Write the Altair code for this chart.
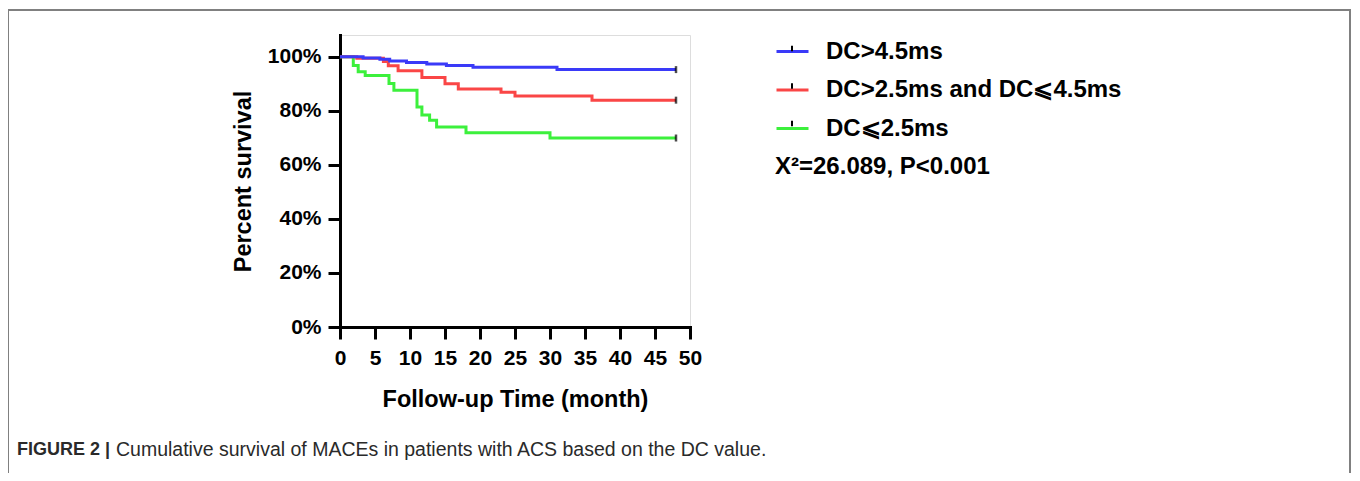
import altair as alt
import pandas as pd

# ---- data ----
series_names = ["DC>4.5ms", "DC>2.5ms and DC⩽4.5ms", "DC⩽2.5ms"]
series_colors = ["#3A3AF8", "#FA4646", "#3CF03C"]

blue_t = [0, 3.3, 5.7, 7.1, 9.5, 12.4, 15.2, 19.0, 31.0, 48]
blue_s = [100, 99.5, 99.0, 98.4, 97.8, 97.3, 96.7, 96.1, 95.2, 95.2]

red_t = [0, 2.4, 6.2, 6.9, 8.3, 11.7, 15.0, 16.9, 23.0, 25.0, 36.0, 48]
red_s = [100, 99.4, 98.2, 96.6, 94.8, 92.3, 90.0, 88.0, 86.8, 85.4, 83.9, 83.9]

green_t = [0, 1.9, 2.6, 3.6, 7.0, 7.7, 11.0, 11.7, 12.8, 13.8, 18.0, 30.0, 48]
green_s = [100, 96.7, 94.4, 93.0, 90.1, 87.6, 81.4, 78.4, 76.5, 74.0, 71.8, 69.9, 69.9]

x_ticks = [0, 5, 10, 15, 20, 25, 30, 35, 40, 45, 50]
y_ticks = [0, 20, 40, 60, 80, 100]

stat_text = "X²=26.089, P<0.001"
caption_bold = "FIGURE 2 |"
caption_rest = "Cumulative survival of MACEs in patients with ACS based on the DC value."

# ---- tables ----
rows = []
for name, ts, ss in zip(series_names, [blue_t, red_t, green_t], [blue_s, red_s, green_s]):
    for t, s in zip(ts, ss):
        rows.append({"group": name, "t": t, "s": s})
df = pd.DataFrame(rows)
ends = pd.DataFrame({"group": series_names,
                     "t": [blue_t[-1], red_t[-1], green_t[-1]],
                     "s": [blue_s[-1], red_s[-1], green_s[-1]]})
# separate keys for the censor-glyph legend so it is not merged with the colour legend
tick_keys = [n + "\u200b" for n in series_names]

FONT = "Liberation Sans"
LEG_X, LEG_Y, LEG_ROWPAD = 435, -1, 8.5

x_enc = alt.X("t:Q", scale=alt.Scale(domain=[0, 50], nice=False, zero=False),
              axis=alt.Axis(values=x_ticks, title="Follow-up Time (month)", grid=False,
                            domainColor="black", domainWidth=3, tickColor="black", tickWidth=3,
                            tickSize=12, labelFont=FONT, labelFontSize=21, labelFontWeight="bold",
                            labelColor="black", labelPadding=8, labelOverlap=False,
                            titleFont=FONT, titleFontSize=23.5,
                            titleFontWeight="bold", titleColor="black", titlePadding=19,
                            labelFlush=False, domainCap="square"))
y_enc = alt.Y("s:Q", scale=alt.Scale(domain=[0, 108], nice=False, zero=True),
              axis=alt.Axis(values=y_ticks, title="Percent survival", grid=False,
                            labelExpr="datum.value + '%'", labelOverlap=False,
                            domainColor="black", domainWidth=3, tickColor="black", tickWidth=3,
                            tickSize=12, labelFont=FONT, labelFontSize=21, labelFontWeight="bold",
                            labelColor="black", labelPadding=7, titleFont=FONT, titleFontSize=23.5,
                            titleFontWeight="bold", titleColor="black", titlePadding=12,
                            labelFlush=False, domainCap="square"))

color_enc = alt.Color("group:N",
                      scale=alt.Scale(domain=series_names, range=series_colors),
                      sort=series_names,
                      legend=alt.Legend(title=None, orient="none", legendX=LEG_X, legendY=LEG_Y,
                                        symbolType="stroke", symbolSize=1024, symbolStrokeWidth=3,
                                        labelFont=FONT, labelFontSize=24, labelFontWeight="bold",
                                        labelColor="black", labelLimit=600, labelOffset=16,
                                        rowPadding=LEG_ROWPAD, padding=0))

# draw green first, then red, then blue on top
line_layers = [
    alt.Chart(df[df.group == name]).mark_line(interpolate="step-after", strokeWidth=3).encode(
        x=x_enc, y=y_enc, color=color_enc, order=alt.Order("t:Q"))
    for name in reversed(series_names)
]

censor = alt.Chart(ends).mark_tick(orient="vertical", size=7, thickness=2.5, color="black").encode(
    x=x_enc, y=y_enc)

# black censor-tick glyphs drawn over the legend lines (legend only, no plotted rows)
tick_path = "M0,-0.33V0.02"
legend_ticks = alt.Chart(ends).transform_filter("datum.t < 0").transform_calculate(
    grp="datum.group + '\u200b'"
).mark_point(filled=False, color="black", strokeWidth=2, opacity=1).encode(
    x=x_enc, y=y_enc,
    shape=alt.Shape("grp:N", scale=alt.Scale(domain=tick_keys, range=[tick_path] * 3),
                    sort=tick_keys,
                    legend=alt.Legend(title=None, orient="none", legendX=LEG_X, legendY=LEG_Y,
                                      symbolSize=1024, symbolStrokeWidth=2,
                                      symbolStrokeColor="black", symbolOpacity=1,
                                      labelFont=FONT, labelFontSize=24, labelFontWeight="bold",
                                      labelColor="transparent", labelLimit=600, labelOffset=16,
                                      rowPadding=LEG_ROWPAD, padding=0)))

stat = alt.Chart(pd.DataFrame({"txt": [stat_text]})).mark_text(
    align="left", baseline="middle", font=FONT, fontSize=24, fontWeight="bold", color="black"
).encode(text="txt:N", x=alt.value(435), y=alt.value(132))

cap1 = alt.Chart(pd.DataFrame({"txt": [caption_bold]})).mark_text(
    align="left", baseline="middle", font=FONT, fontSize=18, fontWeight="bold", color="#2a2a2a"
).encode(text="txt:N", x=alt.value(-323), y=alt.value(415))

cap2 = alt.Chart(pd.DataFrame({"txt": [caption_rest]})).mark_text(
    align="left", baseline="middle", font=FONT, fontSize=19.5, color="#2a2a2a"
).encode(text="txt:N", x=alt.value(-224), y=alt.value(415))

frame = alt.Chart(pd.DataFrame({"a": [0]})).mark_rect(
    fill="transparent", stroke="#808080", strokeWidth=2
).encode(x=alt.value(-332), x2=alt.value(1010), y=alt.value(-25), y2=alt.value(480))

chart = alt.layer(frame, *line_layers, censor, legend_ticks, stat, cap1, cap2).properties(
    width=350, height=292,
    autosize=alt.AutoSizeParams(type="none"),
    padding={"left": 332, "top": 27, "right": 662, "bottom": 146},
).configure_view(strokeWidth=0).configure(background="white")

chart.save("out.html", embed_options={"renderer": "svg", "actions": False})
